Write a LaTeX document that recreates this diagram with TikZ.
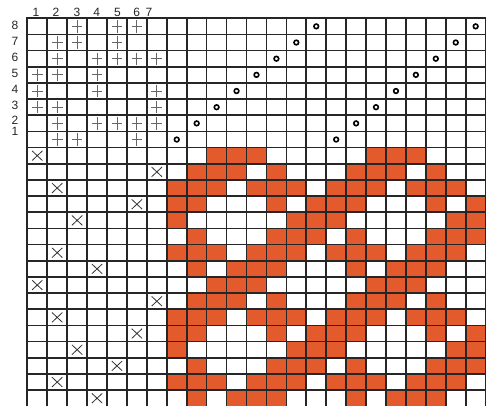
\documentclass[tikz,border=0pt]{standalone}
\usepackage{fontspec}
\setmainfont{Liberation Sans}
\usepackage{xcolor}
\usepackage{tikz}
\definecolor{weftred}{RGB}{227,91,44}

\begin{document}
\begin{tikzpicture}[
  x=14.95pt, y=-12.13pt,
  gridline/.style={draw=black!85, line width=1.25pt, line cap=rect},
  cellfill/.style={fill=weftred},
  tieup/.style={draw=black!60, line width=0.65pt},
  treadle/.style={draw=black!80, line width=0.6pt},
  heddle/.style={draw=black, line width=1.2pt},
  numlabel/.style={font=\fontsize{9}{10}\selectfont, text=black!85, inner sep=0pt}
]
\useasboundingbox (-1.37,-1.13) rectangle (23.27,23.98);

% drawdown
\foreach \r/\shafts in {1/{3,4,5}, 2/{2,3,4,6}, 3/{1,2,3,5,6,7}, 4/{1,2,6,8},
                        5/{1,7,8}, 6/{2,6,7,8}, 7/{1,2,3,5,6,7}, 8/{2,4,5,6}}{
  \foreach \dr in {0,8}{
    \foreach \dc in {0,8}{
      \foreach \s in \shafts{
        \fill[cellfill] (6+\s+\dc,7+\r+\dr) rectangle ++(1,1);
      }
    }
  }
}

% grid
\foreach \i in {0,...,23}{
  \draw[gridline] (\i,0) -- (\i,24);
  \draw[gridline] (0,\i) -- (23,\i);
}

% tie-up
\foreach \s/\treadles in {8/{3,5,6}, 7/{2,3,5}, 6/{2,4,5,6,7}, 5/{1,2,4},
                          4/{1,4,7}, 3/{1,2,7}, 2/{2,4,5,6,7}, 1/{2,3,6}}{
  \foreach \t in \treadles{
    \draw[tieup] (\t-0.5,8.5-\s) +(-0.27,0) -- +(0.27,0) +(0,-0.38) -- +(0,0.38);
  }
}

% threading
\foreach \j in {1,...,16}{
  \pgfmathtruncatemacro{\s}{mod(\j-1,8)+1}
  \draw[heddle] (6.5+\j,8.5-\s) circle[radius=1.75pt];
}

% treadling
\foreach \r/\t in {1/1, 2/7, 3/2, 4/6, 5/3, 7/2, 8/4,
                   9/1, 10/7, 11/2, 12/6, 13/3, 14/5, 15/2, 16/4}{
  \draw[treadle] (\t-0.5,7.5+\r) +(-0.26,-0.3) -- +(0.26,0.3) +(-0.26,0.3) -- +(0.26,-0.3);
}

% numbers
\foreach \t/\xx in {1/0.44, 2/1.44, 3/2.49, 4/3.48, 5/4.52, 6/5.49, 7/6.11}{
  \node[numlabel] (treadle\t) at (\xx,-0.39) {\t};
}
\foreach \s/\yy in {8/0.43, 7/1.43, 6/2.42, 5/3.40, 4/4.38, 3/5.41, 2/6.34, 1/7.0}{
  \node[numlabel] (shaft\s) at (-0.62,\yy) {\s};
}
\end{tikzpicture}
\end{document}
